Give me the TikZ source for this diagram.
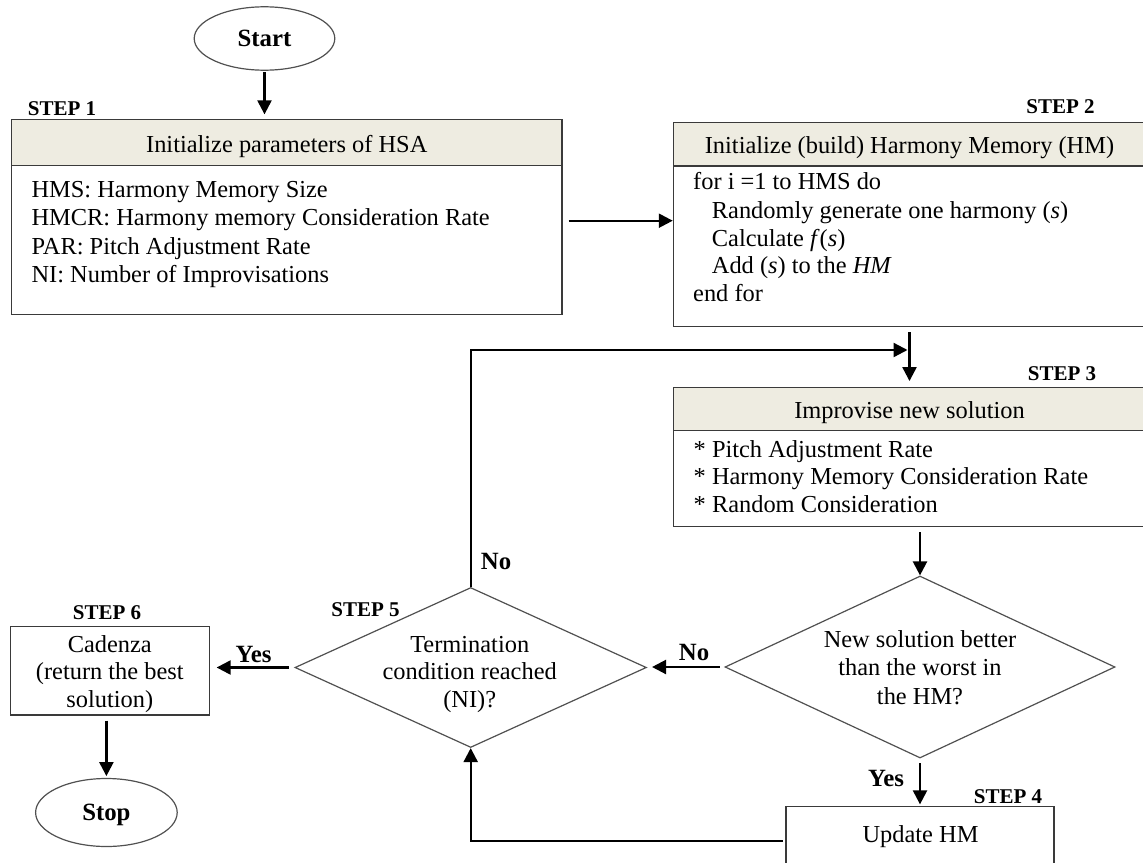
\documentclass[tikz,border=0pt]{standalone}
\usepackage{fontspec}
\setmainfont{Liberation Serif}
\usetikzlibrary{arrows.meta,shapes.geometric}
\definecolor{hdrfill}{HTML}{EEECE1}
\definecolor{edgecol}{HTML}{3A3A3A}
\definecolor{diacol}{HTML}{505050}
\newcommand\mainsz{\fontsize{24.4bp}{28bp}\selectfont}
\newcommand\stepsz{\fontsize{21bp}{25bp}\selectfont\bfseries}
\newcommand\lblsz{\fontsize{24.8bp}{28bp}\selectfont\bfseries}
\begin{document}
\begin{tikzpicture}[x=1bp,y=-1bp,
  bx/.style={draw=edgecol, line width=1.3bp, inner sep=0pt, rectangle},
  hdr/.style={bx, fill=hdrfill},
  txt/.style={inner sep=0pt, font=\mainsz, anchor=base west},
  ctxt/.style={inner sep=0pt, font=\mainsz, anchor=base},
  steplbl/.style={inner sep=0pt, font=\stepsz, text depth=0pt},
  lbl/.style={inner sep=0pt, font=\lblsz, text depth=0pt},
  arr/.style={draw=black, line width=2.3bp, -{Triangle[length=14bp,width=14bp]}},
  dec/.style={draw=diacol, line width=1.2bp, diamond, inner sep=0pt},
  term/.style={ellipse, draw=diacol, line width=1.2bp, inner sep=0pt, font=\lblsz, text depth=0pt},
]
\useasboundingbox (0,0) rectangle (1143,863);
\clip (0,0) rectangle (1143,863);

% Start
\node[term, minimum width=140.6bp, minimum height=63.4bp] (start) at (264.5,38.5) {Start};

% STEP 1 box
\node[steplbl] (s1) at (62,108.3) {STEP 1};
\node[hdr, minimum width=550.5bp, minimum height=46.4bp] (h1) at (286.75,142.5) {};
\node[bx, minimum width=550.5bp, minimum height=148.6bp] (b1) at (286.75,240) {};
\node[ctxt] (h1t) at (286.75,152.5) {Initialize parameters of HSA};
\node[txt] (b1a) at (31.4,197.5) {HMS: Harmony Memory Size};
\node[txt] (b1b) at (31.4,225.8) {HMCR: Harmony memory Consideration Rate};
\node[txt] (b1c) at (31.4,254.2) {PAR: Pitch Adjustment Rate};
\node[txt] (b1d) at (31.4,282.5) {NI: Number of Improvisations};

% STEP 2 box
\node[steplbl] (s2) at (1060.5,106.7) {STEP 2};
\node[hdr, minimum width=472.2bp, minimum height=43.7bp] (h2) at (909.5,144.15) {};
\node[bx, minimum width=472.2bp, minimum height=160.7bp] (b2) at (909.5,246.35) {};
\node[ctxt] (h2t) at (909.5,153) {Initialize (build) Harmony Memory (HM)};
\node[txt] (b2a) at (693,189.5) {for i =1 to HMS do};
\node[txt] (b2b) at (711.7,218) {Randomly generate one harmony (\textit{s})};
\node[txt] (b2c) at (711.7,246) {Calculate \textit{f}(\textit{s})};
\node[txt] (b2d) at (711.7,273.5) {Add (\textit{s}) to the \textit{HM}};
\node[txt] (b2e) at (693,301) {end for};

% STEP 3 box
\node[steplbl] (s3) at (1062,374) {STEP 3};
\node[hdr, minimum width=472.2bp, minimum height=43bp] (h3) at (909.5,409.2) {};
\node[bx, minimum width=472.2bp, minimum height=96bp] (b3) at (909.5,478.7) {};
\node[ctxt] (h3t) at (909.5,418.5) {Improvise new solution};
\node[txt] (b3a) at (693.5,457.5) {* Pitch Adjustment Rate};
\node[txt] (b3b) at (693.5,484.8) {* Harmony Memory Consideration Rate};
\node[txt] (b3c) at (693.5,512.5) {* Random Consideration};

% Decision 1
\node[dec, minimum width=390bp, minimum height=182bp] (d1) at (920,667) {};
\node[ctxt] (d1a) at (920,647.5) {New solution better};
\node[ctxt] (d1b) at (920,675.5) {than the worst in};
\node[ctxt] (d1c) at (920,704.5) {the HM?};

% STEP 4 box
\node[steplbl] (s4) at (1008,797) {STEP 4};
\node[bx, minimum width=268bp, minimum height=68bp] (b4) at (920,840.7) {};
\node[ctxt] (b4t) at (920.5,842.5) {Update HM};

% Decision 2
\node[steplbl] (s5) at (365.5,610) {STEP 5};
\node[dec, minimum width=351.5bp, minimum height=160bp] (d2) at (470.7,667.5) {};
\node[ctxt] (d2a) at (469.7,652.5) {Termination};
\node[ctxt] (d2b) at (469.7,679.2) {condition reached};
\node[ctxt] (d2c) at (469.7,707.5) {(NI)?};

% STEP 6 box
\node[steplbl] (s6) at (107,613) {STEP 6};
\node[bx, minimum width=199bp, minimum height=88.3bp] (b6) at (109.8,670.85) {};
\node[ctxt] (b6a) at (109.8,652.5) {Cadenza};
\node[ctxt] (b6b) at (109.8,679.5) {(return the best};
\node[ctxt] (b6c) at (109.8,707.5) {solution)};

% Stop
\node[term, minimum width=141.6bp, minimum height=68bp] (stop) at (106.4,812.5) {Stop};

% labels
\node[lbl] (nofb) at (496,561.7) {No};
\node[lbl] (no1) at (694,652) {No};
\node[lbl] (yes2) at (253.5,654) {Yes};
\node[lbl] (yes1) at (886,778) {Yes};

% connectors
\coordinate (r12) at (0,220.7);
\coordinate (fb) at (907.5,350);
\draw[arr, shorten <=1.5bp, shorten >=4.3bp] (start.south) -- (start.south |- h1.north);
\draw[arr, shorten <=6bp] (b1.east |- r12) -- (b2.west |- r12);
\draw[arr, shorten <=5bp, shorten >=6bp] (b2.south) -- (h3.north);
\draw[arr] (d2.north) |- (fb);
\draw[arr, shorten <=5bp] (d1.north |- b3.south) -- (d1.north);
\draw[arr, shorten <=4.7bp, shorten >=5bp] (d1.west) -- (d2.east |- d1.west);
\draw[arr, shorten <=5.7bp, shorten >=6.7bp] (d2.west) -- (b6.east |- d2.west);
\draw[arr, shorten <=5bp, shorten >=1.8bp] (stop.north |- b6.south) -- (stop.north);
\draw[arr, shorten <=4.7bp, shorten >=1.7bp] (d1.south) -- (b4.north);
\draw[arr, shorten <=2.4bp] (b4.west) -| (d2.south);
\end{tikzpicture}
\end{document}
